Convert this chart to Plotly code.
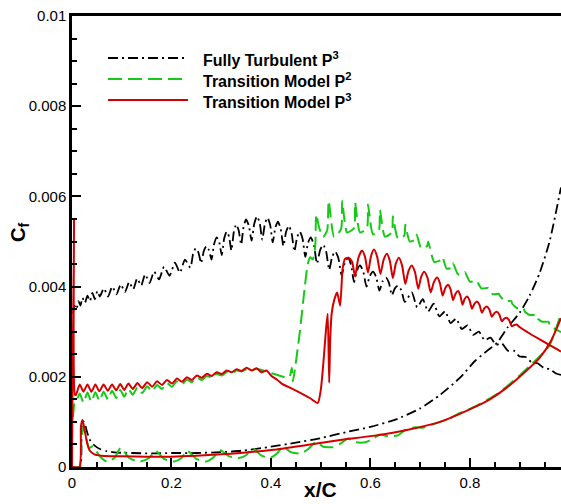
import plotly.graph_objects as go

# ---- Skin friction along the chord, three solutions ----
# Fully turbulent P3: upper surface (scalloped, element-by-element) and lower surface
ft_up_x = [0.002, 0.005, 0.009, 0.013, 0.017, 0.021, 0.026, 0.031, 0.036, 0.041, 0.046, 0.051,
           0.056, 0.064, 0.0725, 0.081, 0.0895, 0.098, 0.1065, 0.115, 0.123, 0.131, 0.139, 0.147,
           0.156, 0.165, 0.175, 0.185, 0.196, 0.207, 0.217, 0.227,
           0.238, 0.2435, 0.249, 0.2543, 0.2595, 0.265, 0.270, 0.2753, 0.2805, 0.2858, 0.291, 0.296,
           0.301, 0.306, 0.311, 0.3158, 0.3205, 0.3253, 0.330, 0.335, 0.340, 0.345, 0.350, 0.3555,
           0.361, 0.3665, 0.372, 0.3773, 0.3825, 0.3878, 0.393, 0.3983, 0.4035, 0.4088, 0.414, 0.4195,
           0.425, 0.4305, 0.436, 0.4415, 0.447, 0.4525, 0.458, 0.4635, 0.469, 0.4745, 0.480, 0.4863,
           0.4925, 0.4988, 0.505, 0.511, 0.517, 0.523, 0.529, 0.5355, 0.542, 0.5485, 0.555, 0.561,
           0.567, 0.573, 0.579, 0.5855, 0.592, 0.5985, 0.605, 0.6115, 0.618, 0.6245, 0.631, 0.637,
           0.643, 0.649, 0.655, 0.662, 0.669,
           0.683, 0.694, 0.705, 0.716, 0.727, 0.7385, 0.750, 0.761, 0.772, 0.7835, 0.795, 0.8065, 0.818,
           0.8295, 0.841, 0.8525, 0.864, 0.876, 0.888, 0.900, 0.912, 0.924, 0.936, 0.948, 0.960,
           0.972, 0.983]
ft_up_cf = [0.00340, 0.00358, 0.00350, 0.00368, 0.00358, 0.00375, 0.00364, 0.00380, 0.00368, 0.00386, 0.00372, 0.00390,
            0.00378, 0.00396, 0.00378, 0.00400, 0.00383, 0.00405, 0.00388, 0.00410, 0.00394, 0.00418, 0.00402, 0.00427,
            0.00408, 0.00433, 0.00416, 0.00444, 0.00424, 0.00453, 0.00431, 0.00460,
            0.00442, 0.00473, 0.00485, 0.00475, 0.00452, 0.00479, 0.00490, 0.00481, 0.00460, 0.00495, 0.00509, 0.00498,
            0.00470, 0.00507, 0.00522, 0.00510, 0.00480, 0.00521, 0.00538, 0.00525, 0.00493, 0.00533, 0.00549, 0.00535,
            0.00502, 0.00540, 0.00556, 0.00541, 0.00504, 0.00539, 0.00553, 0.00537, 0.00498, 0.00531, 0.00544, 0.00528,
            0.00490, 0.00522, 0.00535, 0.00518, 0.00478, 0.00509, 0.00522, 0.00506, 0.00466, 0.00497, 0.00509, 0.00492,
            0.00451, 0.00481, 0.00493, 0.00477, 0.00437, 0.00466, 0.00478, 0.00463, 0.00425, 0.00453, 0.00464, 0.00448,
            0.00410, 0.00436, 0.00447, 0.00433, 0.00400, 0.00423, 0.00433, 0.00421, 0.00391, 0.00412, 0.00420, 0.00409,
            0.00381, 0.00396, 0.00402, 0.00392, 0.00366,
            0.00387, 0.00354, 0.00372, 0.00345, 0.00362, 0.00334, 0.00345, 0.00319, 0.00329, 0.00306, 0.00314, 0.00293,
            0.00300, 0.00281, 0.00287, 0.00271, 0.00274, 0.00258, 0.00258, 0.00245, 0.00244, 0.00232, 0.00230, 0.00220,
            0.00217, 0.00208, 0.00204]
ft_lo_x = [0.000, 0.016, 0.019, 0.022, 0.026, 0.031, 0.037, 0.045, 0.056, 0.07, 0.09, 0.12, 0.16, 0.20,
           0.25, 0.30, 0.34, 0.40, 0.45, 0.50, 0.55, 0.60, 0.65, 0.70, 0.74, 0.78, 0.81, 0.835, 0.855,
           0.876, 0.90, 0.92, 0.94, 0.96, 0.983]
ft_lo_cf = [0.0, 0.0, 0.00085, 0.00102, 0.00095, 0.00075, 0.00058, 0.00048, 0.0004, 0.00035, 0.00032, 0.00031,
            0.0003, 0.00031, 0.00031, 0.00033, 0.00036, 0.00045, 0.00054, 0.00064, 0.00077, 0.00089, 0.00105,
            0.0013, 0.0016, 0.00198, 0.00235, 0.00258, 0.00276, 0.0031, 0.00342, 0.0038, 0.0043, 0.0050, 0.0062]

# Transition model P2
tm2_up_x = [0.002, 0.005, 0.008, 0.0155, 0.023, 0.031, 0.039, 0.047, 0.055, 0.0635, 0.072, 0.0805, 0.089,
            0.097, 0.105, 0.1135, 0.122, 0.1315, 0.141, 0.151, 0.161, 0.171, 0.181, 0.191, 0.201, 0.211,
            0.221, 0.231, 0.241, 0.251, 0.261, 0.271, 0.281, 0.291, 0.301, 0.311, 0.321, 0.331, 0.341,
            0.351, 0.361, 0.371, 0.381, 0.392, 0.410, 0.424, 0.437, 0.440, 0.442, 0.444, 0.458, 0.468,
            0.474, 0.479, 0.484, 0.489, 0.491, 0.497, 0.505, 0.513,
            0.516, 0.527, 0.541, 0.543, 0.553, 0.567, 0.569, 0.579, 0.593, 0.595, 0.605, 0.617,
            0.619, 0.629, 0.643, 0.645, 0.655, 0.668, 0.670, 0.679, 0.691, 0.693, 0.702, 0.714,
            0.716, 0.728, 0.743, 0.745, 0.753, 0.764, 0.766, 0.776, 0.788, 0.790, 0.800, 0.812,
            0.814, 0.823, 0.834, 0.836, 0.846, 0.858, 0.860, 0.870, 0.883, 0.885, 0.895, 0.908,
            0.910, 0.920, 0.933, 0.935, 0.945, 0.958, 0.960, 0.970, 0.983]
tm2_up_cf = [0.00110, 0.00140, 0.00143, 0.00163, 0.00143, 0.00165, 0.00145, 0.00166, 0.00147, 0.00167, 0.00150,
             0.00169, 0.00153, 0.00171, 0.00156, 0.00173, 0.00160, 0.00176, 0.00164, 0.00179, 0.00168, 0.00182,
             0.00173, 0.00186, 0.00178, 0.00190, 0.00183, 0.00194, 0.00188, 0.00198, 0.00193, 0.00202, 0.00198,
             0.00206, 0.00203, 0.00210, 0.00208, 0.00214, 0.00212, 0.00217, 0.00214, 0.00218, 0.00215, 0.00211,
             0.00205, 0.00200, 0.00199, 0.00210, 0.00220, 0.00190, 0.00300, 0.00400, 0.00450, 0.00465, 0.00460,
             0.00490, 0.00560, 0.00530, 0.00510, 0.00525,
             0.00590, 0.00510, 0.00528, 0.00590, 0.00520, 0.00530, 0.00587, 0.00520, 0.00530, 0.00582, 0.00516,
             0.00525, 0.00570, 0.00511, 0.00520, 0.00556, 0.00507, 0.00513, 0.00537, 0.00500, 0.00505, 0.00515,
             0.00485, 0.00490, 0.00500, 0.00455, 0.00460, 0.00465, 0.00440, 0.00442, 0.00452, 0.00427, 0.00429,
             0.00432, 0.00411, 0.00413, 0.00412, 0.00396, 0.00397, 0.00397, 0.00383, 0.00384, 0.00380, 0.00368,
             0.00368, 0.00362, 0.00352, 0.00352, 0.00345, 0.00337, 0.00337, 0.00330, 0.00322, 0.00322, 0.00314,
             0.00307, 0.00299]
tm2_lo_x = [0.000, 0.015, 0.019, 0.023, 0.028, 0.034, 0.042, 0.055, 0.070, 0.085, 0.098, 0.115, 0.135, 0.155,
            0.168, 0.185, 0.205, 0.220, 0.232, 0.250, 0.270, 0.285, 0.297, 0.315, 0.335, 0.350, 0.362, 0.380,
            0.398, 0.412, 0.424, 0.440, 0.460, 0.475, 0.490, 0.505, 0.525, 0.540, 0.555, 0.570, 0.590, 0.605,
            0.620, 0.635, 0.655, 0.670, 0.690, 0.705, 0.720, 0.740, 0.760, 0.780, 0.800, 0.820, 0.840, 0.860,
            0.880, 0.900, 0.920, 0.940, 0.960, 0.983]
tm2_lo_cf = [0.0, 0.0, 0.00060, 0.00088, 0.00070, 0.00042, 0.00046, 0.00025, 0.00012, 0.00020, 0.00042, 0.00020,
             0.00012, 0.00020, 0.00036, 0.00018, 0.00012, 0.00020, 0.00036, 0.00018, 0.00012, 0.00022, 0.00038,
             0.00024, 0.00020, 0.00026, 0.00042, 0.00026, 0.00020, 0.00030, 0.00045, 0.00033, 0.00030, 0.00040,
             0.00055, 0.00045, 0.00044, 0.00052, 0.00063, 0.00055, 0.00055, 0.00063, 0.00072, 0.00068, 0.00070,
             0.00082, 0.00088, 0.00087, 0.00093, 0.00100, 0.00108, 0.00120, 0.00129, 0.00140, 0.00152, 0.00166,
             0.00184, 0.00203, 0.00224, 0.00245, 0.00270, 0.00340]

# Transition model P3
tm3_up_x = [0.000, 0.004, 0.006, 0.008, 0.0155, 0.023, 0.031, 0.039, 0.047, 0.055, 0.0635, 0.072, 0.0805,
            0.089, 0.097, 0.105, 0.1135, 0.122, 0.1315, 0.141, 0.151, 0.161, 0.171, 0.181, 0.191, 0.201,
            0.211, 0.221, 0.231, 0.241, 0.251, 0.261, 0.271, 0.281, 0.291, 0.301, 0.311, 0.321, 0.331,
            0.341, 0.351, 0.361, 0.371, 0.381, 0.391, 0.401, 0.413, 0.424, 0.440, 0.458, 0.478, 0.494,
            0.500, 0.506, 0.511, 0.514, 0.517, 0.519, 0.522, 0.527, 0.533, 0.539, 0.544, 0.549, 0.556, 0.563,
            0.569, 0.5755, 0.583, 0.589, 0.595, 0.601, 0.607, 0.6135, 0.620, 0.6265, 0.633, 0.639,
            0.645, 0.651, 0.657, 0.6635, 0.670, 0.6765, 0.683, 0.6895, 0.696, 0.702, 0.708, 0.7145,
            0.721, 0.7275, 0.734, 0.7395, 0.745, 0.7505, 0.756, 0.761, 0.766, 0.771, 0.776, 0.7805,
            0.785, 0.7895, 0.794, 0.799, 0.804, 0.809, 0.814, 0.819, 0.824, 0.829, 0.834, 0.839,
            0.844, 0.849, 0.854, 0.859, 0.864, 0.869, 0.874, 0.879, 0.884, 0.889, 0.894, 0.899,
            0.920, 0.940, 0.960, 0.983]
tm3_up_cf = [0.0, 0.00550, 0.00160, 0.00160, 0.00183, 0.00167, 0.00183, 0.00167, 0.00183, 0.00168, 0.00183,
             0.00169, 0.00183, 0.00170, 0.00184, 0.00171, 0.00185, 0.00173, 0.00186, 0.00175, 0.00188, 0.00178,
             0.00190, 0.00182, 0.00193, 0.00185, 0.00196, 0.00189, 0.00199, 0.00193, 0.00203, 0.00198, 0.00207,
             0.00202, 0.00210, 0.00206, 0.00214, 0.00210, 0.00217, 0.00213, 0.00220, 0.00214, 0.00219, 0.00210,
             0.00214, 0.00202, 0.00193, 0.00183, 0.00175, 0.00165, 0.00153, 0.00142,
             0.00170, 0.00240, 0.00310, 0.00340, 0.00187, 0.00280, 0.00340, 0.00370, 0.00387, 0.00358, 0.00440,
             0.00462, 0.00464, 0.00455,
             0.00422, 0.00463, 0.00480, 0.00466, 0.00431, 0.00467, 0.00482, 0.00466, 0.00428, 0.00460, 0.00473, 0.00457,
             0.00419, 0.00451, 0.00464, 0.00447, 0.00406, 0.00435, 0.00447, 0.00432, 0.00395, 0.00422, 0.00433, 0.00420,
             0.00387, 0.00410, 0.00420, 0.00408, 0.00380, 0.00397, 0.00404, 0.00394, 0.00370, 0.00384, 0.00390, 0.00381,
             0.00360, 0.00373, 0.00378, 0.00370, 0.00351, 0.00362, 0.00367, 0.00360, 0.00342, 0.00352, 0.00356, 0.00349,
             0.00333, 0.00341, 0.00344, 0.00338, 0.00323, 0.00329, 0.00331, 0.00325, 0.00312, 0.00315, 0.00316, 0.00311,
             0.00296, 0.00283, 0.00270, 0.00256]
tm3_lo_x = [0.000, 0.015, 0.018, 0.021, 0.025, 0.030, 0.036, 0.045, 0.060, 0.080, 0.100, 0.150, 0.200, 0.250,
            0.300, 0.338, 0.404, 0.472, 0.539, 0.605, 0.673, 0.740, 0.806, 0.840, 0.874, 0.910, 0.940, 0.963,
            0.983]
tm3_lo_cf = [0.0, 0.0, 0.00090, 0.00104, 0.00085, 0.00055, 0.00036, 0.00028, 0.00025, 0.00024, 0.00024, 0.00023,
             0.00023, 0.00025, 0.00028, 0.00031, 0.00038, 0.00049, 0.00060, 0.00069, 0.00082, 0.00100, 0.00131,
             0.00150, 0.00176, 0.00210, 0.00242, 0.00280, 0.00330]

series_names = ["Fully Turbulent P<sup>3</sup>", "Transition Model P<sup>2</sup>", "Transition Model P<sup>3</sup>"]
BLACK, GREEN, RED = "#000000", "#17c917", "#d40000"
DASHDOT, DASHED = "10px,4px,2px,4px", "14px,6px"

FONT = "Liberation Sans, Arial, Helvetica, sans-serif"

fig = go.Figure()

def add_curve(x, y, color, dash, width):
    fig.add_trace(go.Scatter(x=x, y=y, mode="lines", showlegend=False, hoverinfo="skip",
                             line=dict(color=color, dash=dash, width=width, shape="spline", smoothing=0.6)))

add_curve(ft_up_x, ft_up_cf, BLACK, DASHDOT, 1.8)
add_curve(ft_lo_x, ft_lo_cf, BLACK, DASHDOT, 1.8)
add_curve(tm2_up_x, tm2_up_cf, GREEN, DASHED, 2)
add_curve(tm2_lo_x, tm2_lo_cf, GREEN, DASHED, 2)
add_curve(tm3_up_x, tm3_up_cf, RED, "solid", 2)
add_curve(tm3_lo_x, tm3_lo_cf, RED, "solid", 2)

# Plot area geometry (pixels) used to place the key in paper coordinates
W, H = 561, 504
ML, MR, MT, MB = 72, 0, 16, 37
PW, PH = W - ML - MR, H - MT - MB

def px_x(p):
    return (p - ML) / PW

def px_y(p):
    return (H - MB - p) / PH

key_rows = [(58, BLACK, DASHDOT), (79, GREEN, DASHED), (100, RED, "solid")]
shapes = []
annotations = []
for (row_y, color, dash), name in zip(key_rows, series_names):
    shapes.append(dict(type="line", xref="paper", yref="paper",
                       x0=px_x(108), x1=px_x(188), y0=px_y(row_y), y1=px_y(row_y),
                       line=dict(color=color, dash=dash, width=2)))
    annotations.append(dict(xref="paper", yref="paper", x=px_x(201), y=px_y(row_y + 1),
                            xanchor="left", yanchor="middle", showarrow=False,
                            text="<b>" + name + "</b>",
                            font=dict(family=FONT, size=16, color="black")))

# Axis titles
annotations.append(dict(xref="x", yref="paper", x=0.5, y=px_y(503), xanchor="center", yanchor="bottom",
                        showarrow=False, text="<b>x/C</b>", font=dict(family=FONT, size=21, color="black")))
annotations.append(dict(xref="paper", yref="paper", x=px_x(19), y=px_y(233), xanchor="center",
                        yanchor="middle", showarrow=False, textangle=-90, text="<b>C<sub>f</sub></b>",
                        font=dict(family=FONT, size=20, color="black")))

axis_common = dict(showgrid=False, zeroline=False, showline=True, linecolor="black", linewidth=2.5,
                   ticks="inside", ticklen=9, tickwidth=2, tickcolor="black",
                   tickfont=dict(family=FONT, size=15, color="black"))

fig.update_layout(
    width=W, height=H,
    margin=dict(l=ML, r=MR, t=MT, b=MB, pad=0),
    paper_bgcolor="white", plot_bgcolor="white",
    xaxis=dict(range=[0, 0.983], tick0=0, dtick=0.2, mirror=True,
               minor=dict(dtick=0.05, ticks="inside", ticklen=5, tickwidth=1.5, tickcolor="black"),
               **axis_common),
    yaxis=dict(range=[0, 0.01], tick0=0, dtick=0.002, mirror=False,
               minor=dict(dtick=0.0005, ticks="inside", ticklen=5, tickwidth=1.5, tickcolor="black"),
               **axis_common),
    shapes=shapes,
    annotations=annotations,
    showlegend=False,
)

fig.write_html("out.html")
